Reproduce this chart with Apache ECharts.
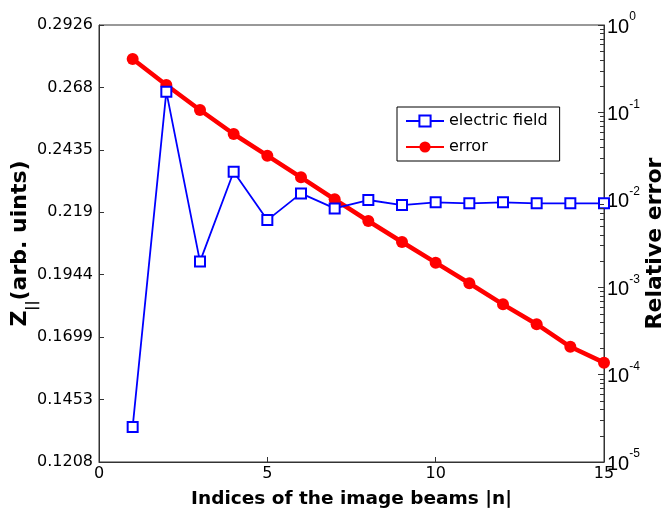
<!DOCTYPE html>
<html>
<head>
<meta charset="utf-8">
<script src="https://cdn.jsdelivr.net/npm/echarts@6/dist/echarts.min.js"></script>
<style>html,body{margin:0;padding:0;background:#fff;}#c{width:665px;height:515px;}</style>
</head>
<body>
<div id="c"></div>
<script>
var beamIndex = [1,2,3,4,5,6,7,8,9,10,11,12,13,14,15];
var electricField = [0.1346,0.2664,0.1996,0.2349,0.2159,0.2264,0.2205,0.2238,0.2218,0.2229,0.2225,0.2229,0.2225,0.2225,0.2225];
var relError = [0.408,0.206,0.1066,0.0566,0.0320,0.0181,0.01014,0.00572,0.00329,0.00191,0.00111,0.000637,0.000377,0.000208,0.000137];
var leftTickLabels = ['0.1208','0.1453','0.1699','0.1944','0.219','0.2435','0.268','0.2926'];
var xTicks = [0,5,10,15];
var logRange = [1e-5, 1];

var FONT = 'DejaVu Sans';
var ARIAL = 'Liberation Sans';
var yMin = parseFloat(leftTickLabels[0]);
var yMax = parseFloat(leftTickLabels[leftTickLabels.length-1]);
var yInt = (yMax - yMin) / (leftTickLabels.length - 1);

// minor tick values of the log axis: 2..9 x 10^d in every decade
var minorTickValues = [];
(function () {
  var d0 = Math.round(Math.log(logRange[0]) / Math.LN10), d1 = Math.round(Math.log(logRange[1]) / Math.LN10);
  for (var d = d0; d < d1; d++) for (var m = 2; m <= 9; m++) minorTickValues.push(m * Math.pow(10, d));
})();

var chart = echarts.init(document.getElementById('c'));
var option = {
  animation: false,
  backgroundColor: '#fff',
  grid: {left: 99, right: 61, top: 25, bottom: 53, containLabel: false, outerBoundsMode: 'none',
    show: true, borderColor: '#333', borderWidth: 1, backgroundColor: 'transparent'},
  legend: {
    left: 397, top: 107, orient: 'vertical',
    backgroundColor: '#fff', borderColor: '#000', borderWidth: 1, borderRadius: 0,
    padding: [6, 12, 6, 8], itemGap: 10, itemWidth: 38, itemHeight: 14,
    textStyle: {fontFamily: FONT, fontSize: 16, color: '#000'},
    data: ['electric field', 'error']
  },
  xAxis: {
    type: 'value', min: xTicks[0], max: xTicks[xTicks.length-1], interval: xTicks[1]-xTicks[0],
    name: 'Indices of the image beams |n|', nameLocation: 'middle', nameGap: 28, nameMoveOverlap: false,
    nameTextStyle: {fontFamily: FONT, fontWeight: 'bold', fontSize: 18.5, color: '#000'},
    axisLine: {show: true, lineStyle: {color: '#333', width: 1}},
    axisTick: {show: true, inside: true, length: 5, lineStyle: {color: '#333'}},
    axisLabel: {fontFamily: FONT, fontSize: 16, color: '#000', margin: 4},
    splitLine: {show: false}
  },
  yAxis: [
    {
      type: 'value', min: yMin, max: yMax, interval: yInt, position: 'left',
      name: '{z|Z}{sub|||}{t|(arb. uints)}', nameLocation: 'middle', nameGap: 60, nameRotate: 90, nameMoveOverlap: false,
      nameTextStyle: {fontFamily: FONT, fontWeight: 'bold', fontSize: 22, color: '#000',
        rich: {
          z: {fontFamily: FONT, fontWeight: 'bold', fontSize: 22, color: '#000', verticalAlign: 'top', lineHeight: 30},
          sub: {fontFamily: FONT, fontWeight: 'bold', fontSize: 14, color: '#000', verticalAlign: 'bottom', lineHeight: 30},
          t: {fontFamily: FONT, fontWeight: 'bold', fontSize: 22, color: '#000', verticalAlign: 'top', lineHeight: 30}
        }},
      axisLine: {show: true, lineStyle: {color: '#333', width: 1}},
      axisTick: {show: true, inside: true, length: 5, lineStyle: {color: '#333'}},
      axisLabel: {fontFamily: FONT, fontSize: 16, color: '#000', margin: 6,
        formatter: function (v, i) {
          var k = Math.round((v - yMin) / yInt);
          return leftTickLabels[k] !== undefined ? leftTickLabels[k] : '';
        }},
      splitLine: {show: false}
    },
    {
      type: 'log', logBase: 10, min: logRange[0], max: logRange[1], position: 'right',
      name: 'Relative error', nameLocation: 'middle', nameGap: 40, nameRotate: 90, nameMoveOverlap: false,
      nameTextStyle: {fontFamily: FONT, fontWeight: 'bold', fontSize: 22, color: '#000'},
      axisLine: {show: true, lineStyle: {color: '#333', width: 1}},
      axisTick: {show: true, inside: true, length: 6, lineStyle: {color: '#333'}},
      axisLabel: {margin: 3, padding: [0, 0, 2, 0],
        formatter: function (v) {
          var e = Math.round(Math.log(v) / Math.LN10);
          return '{b|10}{s|' + e + '}';
        },
        rich: {
          b: {fontFamily: ARIAL, fontSize: 20, color: '#000', verticalAlign: 'bottom', lineHeight: 26},
          s: {fontFamily: ARIAL, fontSize: 12, color: '#000', verticalAlign: 'top', lineHeight: 26}
        }},
      splitLine: {show: false}
    }
  ],
  series: [
    {
      name: 'electric field', type: 'line', yAxisIndex: 0,
      data: beamIndex.map(function (n, i) { return [n, electricField[i]]; }),
      symbol: 'emptyRect', symbolSize: 10,
      lineStyle: {color: '#0000ff', width: 1.8},
      itemStyle: {color: '#0000ff', borderWidth: 2},
      z: 3
    },
    {
      name: 'error', type: 'line', yAxisIndex: 1,
      data: beamIndex.map(function (n, i) { return [n, relError[i]]; }),
      symbol: 'circle', symbolSize: 12,
      lineStyle: {color: '#ff0000', width: 4.5},
      itemStyle: {color: '#ff0000'},
      z: 2
    },
    {
      name: 'minorTicks', type: 'custom', yAxisIndex: 1, silent: true, clip: false, z: 5,
      data: minorTickValues.map(function (v) { return [xTicks[xTicks.length-1], v]; }),
      renderItem: function (params, api) {
        var p = api.coord([api.value(0), api.value(1)]);
        var y = Math.round(p[1]) + 0.5;
        return {type: 'line', shape: {x1: p[0] - 4, y1: y, x2: p[0], y2: y},
          style: {stroke: '#333', lineWidth: 1}};
      }
    }
  ]
};
chart.setOption(option);
</script>
</body>
</html>
